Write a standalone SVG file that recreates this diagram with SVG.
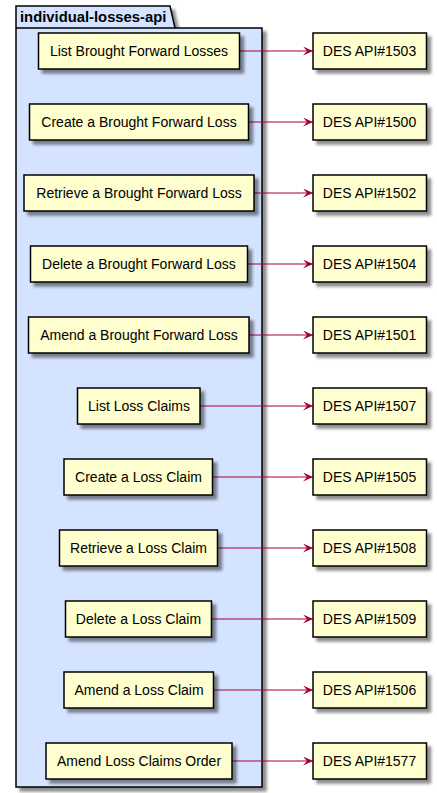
<svg xmlns="http://www.w3.org/2000/svg" width="437" height="793" viewBox="0 0 437 793">
<defs>
<filter id="sh" x="-10%" y="-10%" width="130%" height="140%">
<feGaussianBlur in="SourceAlpha" stdDeviation="1.7"/>
<feOffset dx="4" dy="4" result="b"/>
<feComponentTransfer><feFuncA type="linear" slope="0.45"/></feComponentTransfer>
<feMerge><feMergeNode/><feMergeNode in="SourceGraphic"/></feMerge>
</filter>
<marker id="ah" viewBox="0 0 10 9" refX="10" refY="4.5" markerWidth="10" markerHeight="9" markerUnits="userSpaceOnUse" orient="auto">
<path d="M0,0 L10,4.5 L0,9 L4,4.5 Z" fill="#A80036"/>
</marker>
<style>
.pkg{fill:#D4E3FF;stroke:#000;stroke-width:1.5}
.box{fill:#FEFECE;stroke:#000;stroke-width:1.5;filter:url(#sh)}
.t{font-family:"Liberation Sans",Arial,sans-serif;font-size:14px;fill:#000;text-anchor:middle}
.pt{font-family:"Liberation Sans",Arial,sans-serif;font-size:14.8px;font-weight:bold;fill:#000}
.c{stroke:#A80036;stroke-width:1.2;fill:none;marker-end:url(#ah)}
</style>
</defs>
<g id="package">
<path class="pkg" filter="url(#sh)" d="M16,6 L170,6 L175,28 L262,28 L262,787 L16,787 Z"/>
<line x1="16" y1="28" x2="175" y2="28" stroke="#000" stroke-width="1.5"/>
<text class="pt" x="20" y="22">individual-losses-api</text>
</g>
<g id="connectors">
<line class="c" x1="239.5" y1="51" x2="313" y2="51"/>
<line class="c" x1="248.5" y1="122" x2="313" y2="122"/>
<line class="c" x1="254" y1="193" x2="313" y2="193"/>
<line class="c" x1="247.5" y1="264" x2="313" y2="264"/>
<line class="c" x1="249" y1="335" x2="313" y2="335"/>
<line class="c" x1="200" y1="406" x2="313" y2="406"/>
<line class="c" x1="212.5" y1="477" x2="313" y2="477"/>
<line class="c" x1="217.5" y1="548" x2="313" y2="548"/>
<line class="c" x1="211.5" y1="619" x2="313" y2="619"/>
<line class="c" x1="213.5" y1="690" x2="313" y2="690"/>
<line class="c" x1="232" y1="761" x2="313" y2="761"/>
</g>
<g id="n1"><rect class="box" x="38.5" y="33" width="201" height="36"/><text class="t" x="139" y="56">List Brought Forward Losses</text></g>
<g id="n2"><rect class="box" x="29.5" y="104" width="219" height="36"/><text class="t" x="139" y="127">Create a Brought Forward Loss</text></g>
<g id="n3"><rect class="box" x="24" y="175" width="230" height="36"/><text class="t" x="139" y="198">Retrieve a Brought Forward Loss</text></g>
<g id="n4"><rect class="box" x="30.5" y="246" width="217" height="36"/><text class="t" x="139" y="269">Delete a Brought Forward Loss</text></g>
<g id="n5"><rect class="box" x="28.5" y="317" width="220.5" height="36"/><text class="t" x="139" y="340">Amend a Brought Forward Loss</text></g>
<g id="n6"><rect class="box" x="77.5" y="388" width="122.5" height="36"/><text class="t" x="139" y="411">List Loss Claims</text></g>
<g id="n7"><rect class="box" x="64" y="459" width="148.5" height="36"/><text class="t" x="138.5" y="482">Create a Loss Claim</text></g>
<g id="n8"><rect class="box" x="59.5" y="530" width="158" height="36"/><text class="t" x="138.5" y="553">Retrieve a Loss Claim</text></g>
<g id="n9"><rect class="box" x="65.5" y="601" width="146" height="36"/><text class="t" x="138.5" y="624">Delete a Loss Claim</text></g>
<g id="n10"><rect class="box" x="64" y="672" width="149.5" height="36"/><text class="t" x="139" y="695">Amend a Loss Claim</text></g>
<g id="n11"><rect class="box" x="46" y="743" width="186" height="36"/><text class="t" x="139" y="766">Amend Loss Claims Order</text></g>
<g id="d1"><rect class="box" x="313" y="33" width="113.5" height="36"/><text class="t" x="369.5" y="56">DES API#1503</text></g>
<g id="d2"><rect class="box" x="313" y="104" width="113.5" height="36"/><text class="t" x="369.5" y="127">DES API#1500</text></g>
<g id="d3"><rect class="box" x="313" y="175" width="113.5" height="36"/><text class="t" x="369.5" y="198">DES API#1502</text></g>
<g id="d4"><rect class="box" x="313" y="246" width="113.5" height="36"/><text class="t" x="369.5" y="269">DES API#1504</text></g>
<g id="d5"><rect class="box" x="313" y="317" width="113.5" height="36"/><text class="t" x="369.5" y="340">DES API#1501</text></g>
<g id="d6"><rect class="box" x="313" y="388" width="113.5" height="36"/><text class="t" x="369.5" y="411">DES API#1507</text></g>
<g id="d7"><rect class="box" x="313" y="459" width="113.5" height="36"/><text class="t" x="369.5" y="482">DES API#1505</text></g>
<g id="d8"><rect class="box" x="313" y="530" width="113.5" height="36"/><text class="t" x="369.5" y="553">DES API#1508</text></g>
<g id="d9"><rect class="box" x="313" y="601" width="113.5" height="36"/><text class="t" x="369.5" y="624">DES API#1509</text></g>
<g id="d10"><rect class="box" x="313" y="672" width="113.5" height="36"/><text class="t" x="369.5" y="695">DES API#1506</text></g>
<g id="d11"><rect class="box" x="313" y="743" width="113.5" height="36"/><text class="t" x="369.5" y="766">DES API#1577</text></g>
</svg>
